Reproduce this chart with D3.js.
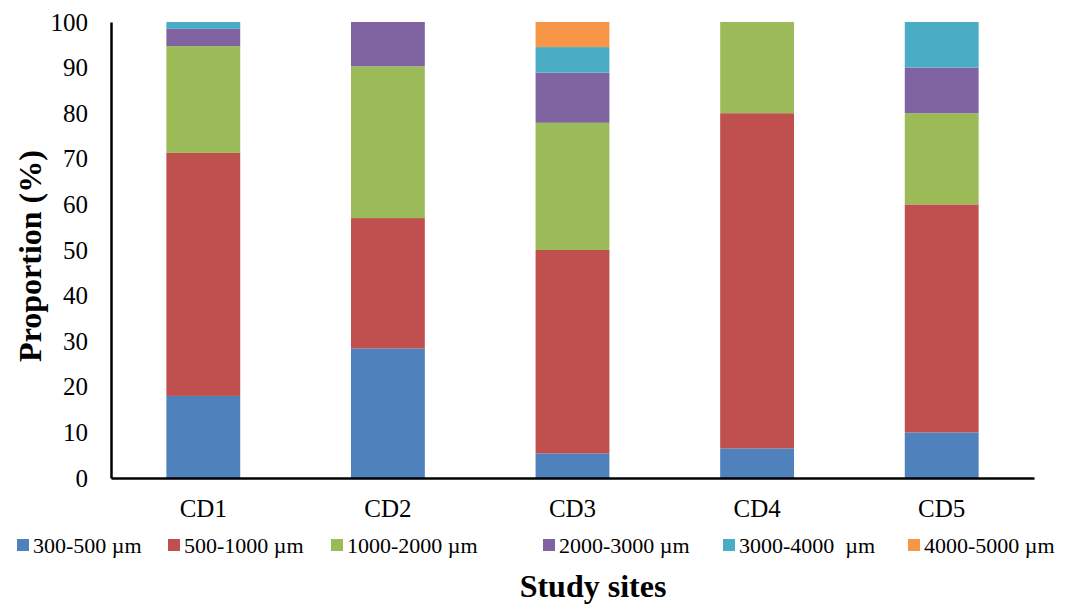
<!DOCTYPE html>
<html>
<head>
<meta charset="utf-8">
<script src="https://cdn.jsdelivr.net/npm/d3@7"></script>
<style>
  body { margin: 0; background: #fff; }
  text { font-family: "Liberation Serif", "Times New Roman", serif; fill: #000; }
</style>
</head>
<body>
<div id="chart"></div>
<script>
let width = 1082, height = 605;
let margin = ({top: 22, right: 48, bottom: 127, left: 111});

// data
let sites = ["CD1", "CD2", "CD3", "CD4", "CD5"];
let sizeClasses = ["300-500 µm", "500-1000 µm", "1000-2000 µm", "2000-3000 µm", "3000-4000  µm", "4000-5000 µm"];
let s300 = [18.0, 28.4, 5.4, 6.5, 10.0];
let s500 = [53.3, 28.6, 44.6, 73.5, 50.0];
let s1000 = [23.4, 33.3, 27.9, 20.0, 20.0];
let s2000 = [3.8, 9.7, 11.0, 0, 10.0];
let s3000 = [1.5, 0, 5.6, 0, 10.0];
let s4000 = [0, 0, 5.5, 0, 0];
let yTicks = [0, 10, 20, 30, 40, 50, 60, 70, 80, 90, 100];
let colors = ["#4f81bd", "#c0504d", "#9bbb59", "#8064a2", "#4bacc6", "#f79646"];
let legendX = [17, 168, 331, 543, 723, 908];

let series = [s300, s500, s1000, s2000, s3000, s4000];
let rows = sites.map(function(s, i) {
    let r = {site: s};
    sizeClasses.forEach(function(c, j) { r[c] = series[j][i]; });
    return r;
});

let stacked = d3.stack().keys(sizeClasses)(rows);

let svg = d3.select("#chart").append("svg")
    .attr("width", width)
    .attr("height", height);

let xScale = d3.scaleBand()
    .domain(sites)
    .range([margin.left, width - margin.right])
    .paddingInner(0.6)
    .paddingOuter(0.3);

let yScale = d3.scaleLinear()
    .domain([0, 100])
    .range([height - margin.bottom, margin.top]);

svg.append("g")
    .selectAll("g")
    .data(stacked)
    .enter()
    .append("g")
    .attr("fill", function(d, i) { return colors[i]; })
    .selectAll("rect")
    .data(function(d) { return d; })
    .enter()
    .append("rect")
    .attr("x", function(d) { return xScale(d.data.site); })
    .attr("y", function(d) { return yScale(d[1]); })
    .attr("width", xScale.bandwidth())
    .attr("height", function(d) { return yScale(d[0]) - yScale(d[1]); });

let yAxis = d3.axisLeft(yScale)
    .tickValues(yTicks)
    .tickSize(0)
    .tickPadding(23);

let gY = svg.append("g")
    .attr("transform", `translate(${margin.left},0)`)
    .call(yAxis);
gY.select(".domain").attr("stroke", "#000").attr("stroke-width", 2.5);
gY.selectAll("text").attr("font-size", 25);

let xAxis = d3.axisBottom(xScale)
    .tickSize(0)
    .tickPadding(21);

let gX = svg.append("g")
    .attr("transform", `translate(0,${height - margin.bottom})`)
    .call(xAxis);
gX.select(".domain").attr("stroke", "#000").attr("stroke-width", 2.5);
gX.selectAll("text").attr("font-size", 25);

svg.append("text")
    .attr("transform", "translate(41,256) rotate(-90)")
    .attr("text-anchor", "middle")
    .attr("font-size", 32)
    .attr("font-weight", "bold")
    .text("Proportion (%)");

let legend = svg.append("g")
    .selectAll("g")
    .data(sizeClasses)
    .enter()
    .append("g")
    .attr("transform", function(d, i) { return `translate(${legendX[i]},539)`; });

legend.append("rect")
    .attr("width", 12)
    .attr("height", 12)
    .attr("fill", function(d, i) { return colors[i]; });

legend.append("text")
    .attr("x", 16)
    .attr("y", 14)
    .attr("font-size", 22)
    .style("white-space", "pre")
    .text(function(d) { return d; });

svg.append("text")
    .attr("x", 593)
    .attr("y", 597)
    .attr("text-anchor", "middle")
    .attr("font-size", 32)
    .attr("font-weight", "bold")
    .text("Study sites");
</script>
</body>
</html>
